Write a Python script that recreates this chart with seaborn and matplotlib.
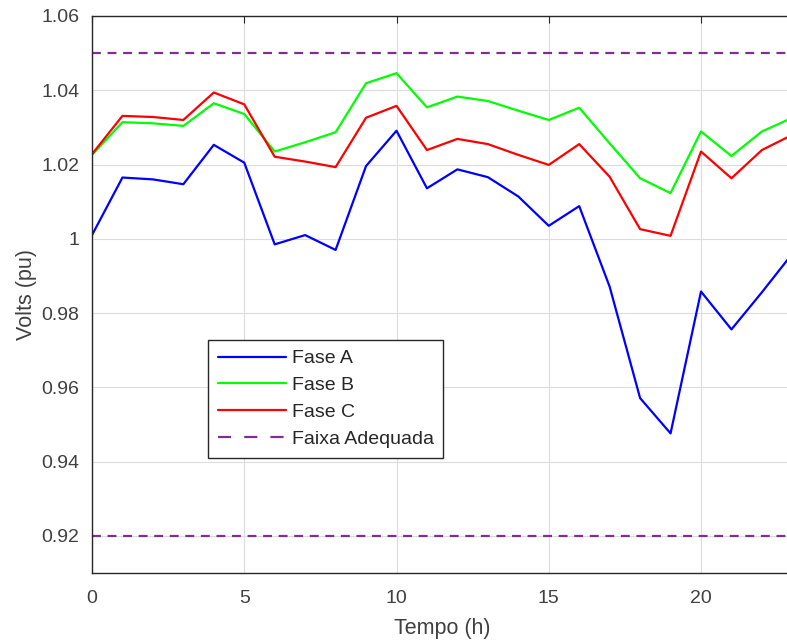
import numpy as np
import pandas as pd
import matplotlib
matplotlib.use("Agg")
import matplotlib.pyplot as plt
import seaborn as sns
from matplotlib.lines import Line2D

hours = list(range(24))
fase_a = [1.001, 1.0165, 1.016, 1.0147, 1.0253, 1.0205, 0.9985, 1.001, 0.997, 1.0196,
          1.0291, 1.0136, 1.0187, 1.0166, 1.0114, 1.0035, 1.0088, 0.9871, 0.9571, 0.9476,
          0.9858, 0.9756, 0.9856, 0.9960]
fase_b = [1.0226, 1.0314, 1.0311, 1.0304, 1.0365, 1.0336, 1.0235, 1.026, 1.0287, 1.0419,
          1.0446, 1.0354, 1.0383, 1.0371, 1.0345, 1.032, 1.0353, 1.0257, 1.0163, 1.0123,
          1.0289, 1.0223, 1.0289, 1.0326]
fase_c = [1.0228, 1.0331, 1.0328, 1.032, 1.0394, 1.0362, 1.0221, 1.0208, 1.0193, 1.0326,
          1.0358, 1.0239, 1.0269, 1.0255, 1.0226, 1.0199, 1.0255, 1.0167, 1.0026, 1.0008,
          1.0235, 1.0163, 1.0239, 1.0280]
limits = [0.92, 1.05]
series_names = ["Fase A", "Fase B", "Fase C"]
band_name = "Faixa Adequada"
colors = ["#0000FF", "#00FF00", "#FF0000"]
band_color = "#7E2F8E"

sns.set_style("white")
plt.rcParams["font.family"] = ["Liberation Sans", "DejaVu Sans"]

df = pd.DataFrame({"Tempo": hours * 3,
                   "Volts": fase_a + fase_b + fase_c,
                   "Fase": [n for n in series_names for _ in hours]})

W, H = 787, 643
fig = plt.figure(figsize=(W / 100, H / 100), dpi=100)
px_per_h = 30.45
ax = fig.add_axes([92 / W, (H - 573) / H, 23 * px_per_h / W, (573 - 16) / H])

sns.lineplot(data=df, x="Tempo", y="Volts", hue="Fase", palette=colors,
             linewidth=1.6, ax=ax, legend=False)
for i, lim in enumerate(limits):
    ax.axhline(lim, color=band_color, linewidth=1.6, dashes=(4, 3))

ax.set_xlim(0, 23)
ax.set_ylim(0.91, 1.06)
ax.set_xticks([0, 5, 10, 15, 20])
ax.set_yticks([0.92, 0.94, 0.96, 0.98, 1.0, 1.02, 1.04, 1.06])
ax.set_yticklabels(["0.92", "0.94", "0.96", "0.98", "1", "1.02", "1.04", "1.06"])
ax.grid(True, color="#dcdcdc", linewidth=0.8)
ax.tick_params(direction="in", length=5, color="#262626", labelcolor="#404040",
               labelsize=14, top=True, right=False)
ax.tick_params(axis="x", pad=12)
ax.tick_params(axis="y", pad=9)
for s in ax.spines.values():
    s.set_color("#262626")
    s.set_linewidth(1.0)
ax.set_xlabel("Tempo (h)", fontsize=15.5, color="#404040", labelpad=8)
ax.set_ylabel("Volts (pu)", fontsize=15.5, color="#404040", labelpad=3)

handles = [Line2D([], [], color=c, linewidth=1.6) for c in colors]
handles.append(Line2D([], [], color=band_color, linewidth=1.6, dashes=(5.9, 5.9)))
leg = ax.legend(handles, series_names + [band_name], loc="upper left",
                bbox_to_anchor=((208 - 92) / (23 * px_per_h), (573 - 340) / 557),
                borderaxespad=0, fontsize=14, frameon=True, fancybox=False,
                edgecolor="#262626", framealpha=1, handlelength=3.5,
                handletextpad=0.3, labelspacing=0.48, borderpad=0.5)
leg.get_frame().set_linewidth(1.0)
for t in leg.get_texts():
    t.set_color("#262626")

fig.savefig("out.png", dpi=100)
